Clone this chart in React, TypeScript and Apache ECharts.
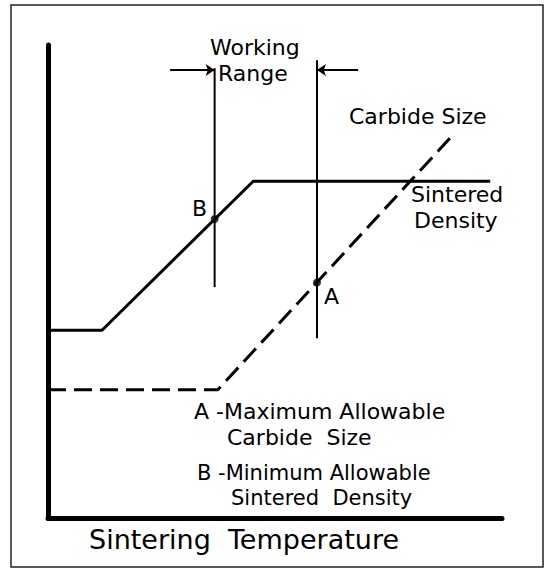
import React, { useEffect, useRef } from "react";
import * as echarts from "echarts";

// Abstract 0-100 scales (no ticks in the original diagram)
const sinteredDensity: [number, number][] = [
  [0, 39.7],
  [11.9, 39.7],
  [45.2, 71.2],
  [97.4, 71.2],
];
const carbideSize: [number, number][] = [
  [0, 27.1],
  [37.4, 27.1],
  [89.6, 81.4],
];
const workingLeft: [number, number][] = [
  [36.7, 95.1],
  [36.7, 48.8],
];
const workingRight: [number, number][] = [
  [59.25, 96.8],
  [59.25, 38.0],
];
const arrowLeft: [number, number][] = [
  [26.9, 94.7],
  [36.7, 94.7],
];
const arrowRight: [number, number][] = [
  [68.3, 94.7],
  [59.25, 94.7],
];
const pointB: [number, number] = [36.7, 63.2];
const pointA: [number, number] = [59.25, 49.8];

const FONT = "DejaVu Sans";

export default function App() {
  const ref = useRef<HTMLDivElement>(null);
  useEffect(() => {
    if (!ref.current) return;
    const chart = echarts.init(ref.current, undefined, { renderer: "svg" });
    const txt = (text: string, x: number, y: number, size = 22, lh = size - 3) => ({
      type: "text",
      x,
      y,
      silent: true,
      style: {
        text,
        fill: "#000",
        font: `${size}px "${FONT}"`,
        lineHeight: lh,
        verticalAlign: "middle",
        align: "left",
      },
    });
    chart.setOption({
      animation: false,
      backgroundColor: "#fff",
      grid: { left: 48, top: 45, width: 454, height: 473 },
      xAxis: {
        type: "value",
        min: 0,
        max: 100,
        axisLine: { show: true, lineStyle: { color: "#000", width: 5, cap: "round" } },
        axisTick: { show: false },
        axisLabel: { show: false },
        splitLine: { show: false },
      },
      yAxis: {
        type: "value",
        min: 0,
        max: 100,
        axisLine: { show: true, lineStyle: { color: "#000", width: 5, cap: "round" } },
        axisTick: { show: false },
        axisLabel: { show: false },
        splitLine: { show: false },
      },
      series: [
        {
          name: "Sintered Density",
          type: "line",
          data: sinteredDensity,
          symbol: "none",
          lineStyle: { color: "#000", width: 3 },
        },
        {
          name: "Carbide Size",
          type: "line",
          data: carbideSize,
          symbol: "none",
          lineStyle: { color: "#000", width: 3, type: [18, 8] },
        },
        {
          type: "line",
          data: workingLeft,
          symbol: "none",
          lineStyle: { color: "#000", width: 2 },
        },
        {
          type: "line",
          data: workingRight,
          symbol: "none",
          lineStyle: { color: "#000", width: 2 },
        },
        {
          type: "lines",
          coordinateSystem: "cartesian2d",
          symbol: ["none", "arrow"],
          symbolSize: 9,
          lineStyle: { color: "#000", width: 2, opacity: 1 },
          data: [{ coords: arrowLeft }, { coords: arrowRight }],
        },
        {
          type: "scatter",
          data: [pointB, pointA],
          symbol: "circle",
          symbolSize: 8,
          itemStyle: { color: "#000" },
        },
      ],
      graphic: [
        {
          type: "rect",
          shape: { x: 11, y: 5, width: 532, height: 562 },
          style: { fill: "none", stroke: "#222", lineWidth: 1.5 },
          silent: true,
        },
        txt("Working", 210, 47),
        txt("Range", 218, 73),
        txt("Carbide Size", 349, 116),
        txt("B", 192, 208),
        txt("A", 324, 296),
        txt("Sintered", 411, 194),
        txt("Density", 414, 220),
        txt("A -Maximum Allowable", 194, 411),
        txt("Carbide  Size", 227, 437),
        txt("B -Minimum Allowable", 197, 473, 21),
        txt("Sintered  Density", 231, 498, 21),
        txt("Sintering  Temperature", 89, 539, 27),
      ],
    });
    return () => chart.dispose();
  }, []);
  return (
    <div
      ref={ref}
      style={{ position: "fixed", left: 0, top: 0, width: 550, height: 569, background: "#fff" }}
    />
  );
}
